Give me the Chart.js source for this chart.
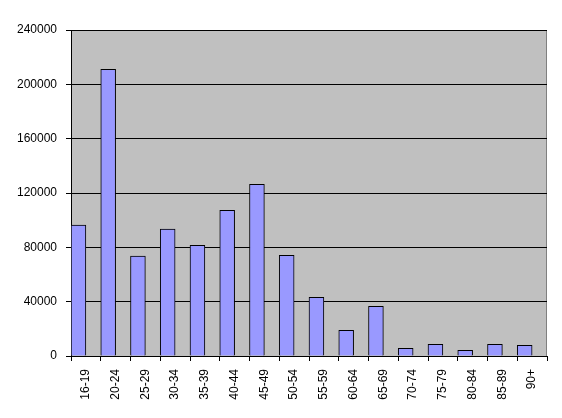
<!doctype html>
<html>
<head>
<meta charset="utf-8">
<script src="https://cdn.jsdelivr.net/npm/chart.js"></script>
<style>
  html, body { margin: 0; padding: 0; background: #fff; }
  #wrap { width: 562px; height: 418px; position: relative; }
</style>
</head>
<body>
<div id="wrap"><canvas id="c"></canvas></div>
<script>
const ageGroups = ['16-19', '20-24', '25-29', '30-34', '35-39', '40-44', '45-49', '50-54',
  '55-59', '60-64', '65-69', '70-74', '75-79', '80-84', '85-89', '90+'];
const counts = [96400, 211000, 73600, 93400, 81500, 107300, 126400, 74100,
  43200, 18900, 36600, 5700, 8600, 4200, 8600, 7900];
const yTicks = [0, 40000, 80000, 120000, 160000, 200000, 240000];

const plotBg = {
  id: 'plotBg',
  beforeDraw(chart) {
    const { ctx, chartArea: a } = chart;
    ctx.save();
    ctx.fillStyle = '#c0c0c0';
    ctx.fillRect(a.left, a.top, a.right - a.left, a.bottom - a.top);
    ctx.strokeStyle = '#808080';
    ctx.lineWidth = 1;
    ctx.beginPath();
    ctx.moveTo(a.left, a.top + 0.5);
    ctx.lineTo(a.right - 0.5, a.top + 0.5);
    ctx.lineTo(a.right - 0.5, a.bottom);
    ctx.stroke();
    ctx.restore();
  }
};

Chart.defaults.font.family = '"Liberation Sans", Arial, sans-serif';
Chart.defaults.font.size = 12;
Chart.defaults.color = '#000';

new Chart(document.getElementById('c'), {
  type: 'bar',
  data: {
    labels: ageGroups,
    datasets: [{
      data: counts,
      backgroundColor: '#9999ff',
      borderColor: '#000',
      borderWidth: 1,
      barPercentage: 1,
      categoryPercentage: 1
    }, {
      // empty slot so the bars sit in the left half of each category, as in the original
      data: [],
      barPercentage: 1,
      categoryPercentage: 1
    }]
  },
  options: {
    responsive: true,
    maintainAspectRatio: false,
    animation: false,
    layout: { padding: { top: 30, right: 15, left: 0, bottom: 0 } },
    plugins: { legend: { display: false }, tooltip: { enabled: false } },
    scales: {
      x: {
        offset: true,
        grid: { offset: true, drawOnChartArea: false, drawTicks: true, tickLength: 5, color: '#000' },
        border: { color: '#000' },
        ticks: { minRotation: 90, maxRotation: 90, padding: 8, autoSkip: false },
        afterFit(s) { s.height = 62; }
      },
      y: {
        min: 0,
        max: 240000,
        afterBuildTicks(s) { s.ticks = yTicks.map(v => ({ value: v })); },
        grid: { color: '#000', tickLength: 5 },
        border: { color: '#000' },
        ticks: { padding: 9, callback: v => String(v) },
        afterFit(s) { s.width = 71; }
      }
    }
  },
  plugins: [plotBg]
});
</script>
</body>
</html>
